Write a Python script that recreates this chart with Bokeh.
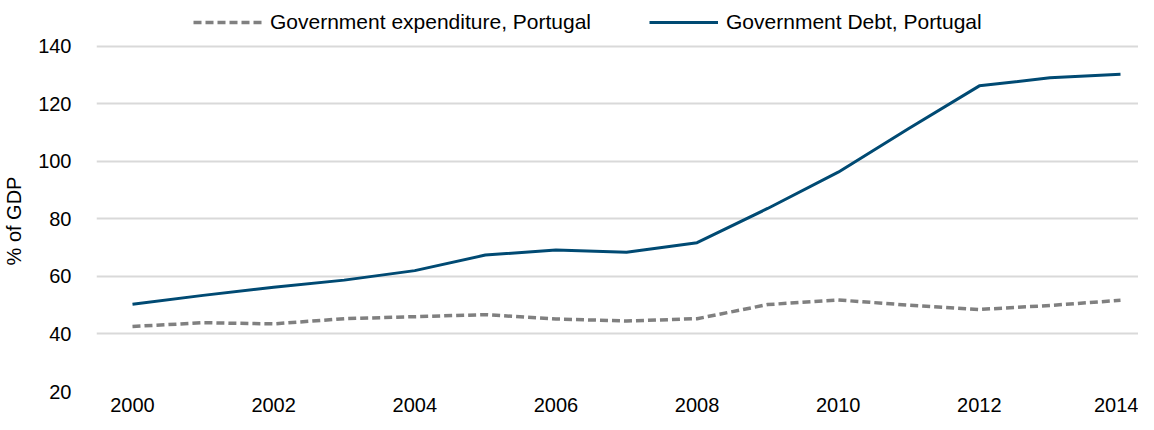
from bokeh.plotting import figure
from bokeh.models import Range1d, FixedTicker, Legend, LegendItem
from bokeh.embed import file_html
from bokeh.resources import INLINE

years = list(range(2000, 2015))
expenditure = [42.6, 43.9, 43.5, 45.3, 46.0, 46.7, 45.2, 44.5, 45.3, 50.2, 51.8, 50.0, 48.5, 49.9, 51.7]
debt = [50.3, 53.4, 56.2, 58.7, 62.0, 67.4, 69.2, 68.4, 71.7, 83.6, 96.2, 111.4, 126.2, 129.0, 130.2]
y_ticks = [20, 40, 60, 80, 100, 120, 140]
x_ticks = [2000, 2002, 2004, 2006, 2008, 2010, 2012, 2014]

FONT = "Liberation Sans"
FS = "20px"

# frame spans the full height above the x axis; the top strip holds the legend
p = figure(width=1138, height=414, output_backend="svg", toolbar_location=None,
           x_range=Range1d(1999.49, 2014.255), y_range=Range1d(20, 155.86),
           min_border_left=96, min_border_right=0, min_border_top=0, min_border_bottom=20)
p.outline_line_color = None

r_exp = p.line(years, expenditure, line_color="#808080", line_width=3.5, line_dash="8 4")
r_debt = p.line(years, debt, line_color="#004a73", line_width=3, line_join="round")

for ax in (p.xaxis[0], p.yaxis[0]):
    ax.axis_line_color = None
    ax.major_tick_line_color = None
    ax.minor_tick_line_color = None
    ax.major_label_text_font = FONT
    ax.major_label_text_font_size = FS
    ax.major_label_text_color = "black"

p.xaxis.ticker = FixedTicker(ticks=x_ticks)
p.yaxis.ticker = FixedTicker(ticks=y_ticks)
p.xaxis.major_label_standoff = 0
p.yaxis.major_label_standoff = 19
p.yaxis.axis_label = "% of GDP" + "\u00a0" * 9
p.yaxis.axis_label_text_font = FONT
p.yaxis.axis_label_text_font_size = FS
p.yaxis.axis_label_text_font_style = "normal"
p.yaxis.axis_label_text_color = "black"
p.yaxis.axis_label_standoff = 10

p.xgrid.grid_line_color = None
p.ygrid.grid_line_color = "#d9d9d9"
p.ygrid.grid_line_width = 2

legend = Legend(items=[LegendItem(label="Government expenditure, Portugal", renderers=[r_exp]),
                       LegendItem(label="Government Debt, Portugal", renderers=[r_debt])],
                orientation="horizontal", location=(97, 357),
                glyph_width=69, glyph_height=20, label_height=20,
                label_standoff=8, spacing=58, padding=0, margin=0,
                label_text_font=FONT, label_text_font_size="21px", label_text_color="black",
                border_line_color=None, background_fill_alpha=0)
p.add_layout(legend, "center")

open("out.html", "w").write(file_html(p, INLINE))
